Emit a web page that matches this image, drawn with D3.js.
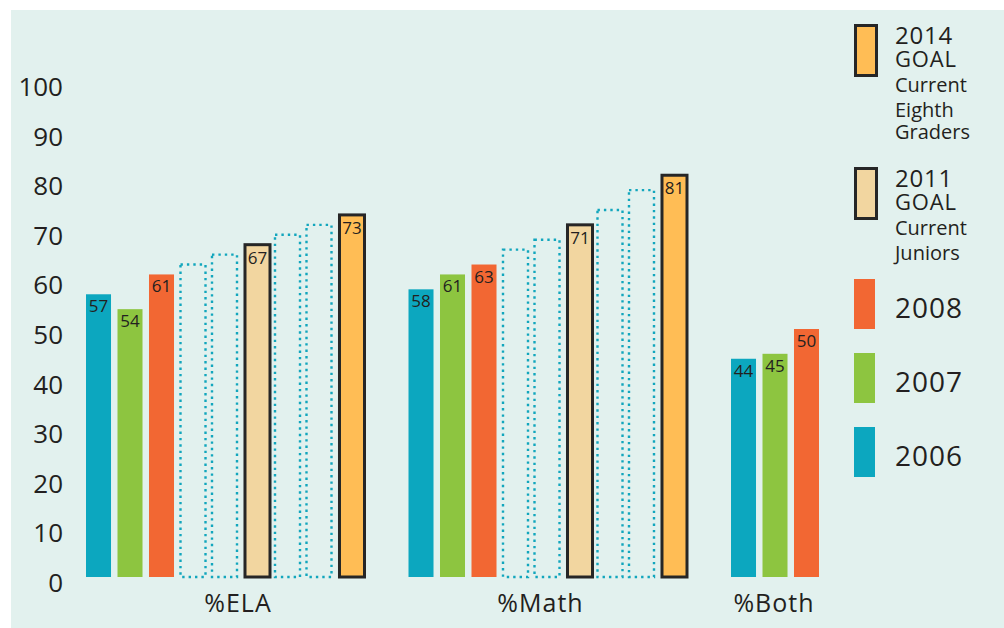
<!DOCTYPE html>
<html>
<head>
<meta charset="utf-8">
<script src="https://cdn.jsdelivr.net/npm/d3@7"></script>
<style>
  body { margin: 0; background: #fff; }
  text { font-family: "Open Sans", sans-serif; fill: #231f20; }
</style>
</head>
<body>
<script>
// categories and slots
var categories = ["%ELA", "%Math", "%Both"];
var slots = ["2006", "2007", "2008", "p1", "p2", "2011", "p3", "p4", "2014"];

// values per year (null = no bar)
var y2006 = [57, 58, 44];
var y2007 = [54, 61, 45];
var y2008 = [61, 63, 50];
var goal2011 = [67, 71, null];
var goal2014 = [73, 81, null];
// dotted "steps" toward the goals
var step1 = [63, 66, null];
var step2 = [65, 68, null];
var step3 = [69, 74, null];
var step4 = [71, 78, null];

var yTicks = [0, 10, 20, 30, 40, 50, 60, 70, 80, 90, 100];

var legendItems = [
  { key: "2014", lines: ["2014", "GOAL", "Current", "Eighth", "Graders"] },
  { key: "2011", lines: ["2011", "GOAL", "Current", "Juniors"] },
  { key: "2008", lines: ["2008"] },
  { key: "2007", lines: ["2007"] },
  { key: "2006", lines: ["2006"] }
];

var width = 1004,
    height = 628;

var color = {
  "2006": "#0ca7bf",
  "2007": "#8dc540",
  "2008": "#f26733",
  "2011": "#f2d6a0",
  "2014": "#ffbd55"
};

var svg = d3.select("body").append("svg")
    .attr("width", width)
    .attr("height", height);

svg.append("rect")
    .attr("x", 11).attr("y", 10)
    .attr("width", width - 11).attr("height", height - 10)
    .attr("fill", "#e2f1ee");

var y = d3.scaleLinear().domain([0, 100]).range([577, 81]);

var x0 = d3.scaleBand().domain(categories).range([86, 86 + 3 * 322.5]);
var x1 = d3.scaleBand().domain(slots).range([0, 277]).paddingInner(0.206);

// build bar list
var series = {
  "2006": y2006, "2007": y2007, "2008": y2008,
  "p1": step1, "p2": step2, "2011": goal2011, "p3": step3, "p4": step4, "2014": goal2014
};
var bars = [];
categories.forEach(function(c, i) {
  slots.forEach(function(s) {
    var v = series[s][i];
    if (v != null) bars.push({ cat: c, slot: s, value: v });
  });
});

var bw = x1.bandwidth();
function isGoal(d) { return d.slot == "2011" || d.slot == "2014"; }
function isStep(d) { return d.slot.charAt(0) == "p"; }
function barX(d) {
  var bx = x0(d.cat) + x1(d.slot);
  return isGoal(d) ? bx + 1.5 : bx;
}

svg.selectAll(".bar")
    .data(bars)
  .enter().append("rect")
    .attr("class", "bar")
    .attr("x", barX)
    .attr("y", function(d) { return y(d.value); })
    .attr("width", bw)
    .attr("height", function(d) { return y(0) - y(d.value); })
    .attr("fill", function(d) { return color[d.slot] || "none"; })
    .attr("stroke", function(d) {
      if (isGoal(d)) return "#262626";
      if (isStep(d)) return "#12a6bd";
      return "none";
    })
    .attr("stroke-width", function(d) { return isStep(d) ? 2.4 : 3; })
    .attr("stroke-dasharray", function(d) { return isStep(d) ? "2.4,4" : null; });

// value labels
svg.selectAll(".val")
    .data(bars.filter(function(d) { return !isStep(d); }))
  .enter().append("text")
    .attr("class", "val")
    .attr("x", function(d) { return barX(d) + bw / 2; })
    .attr("y", function(d) { return y(d.value) + (isGoal(d) ? 19 : 18); })
    .attr("text-anchor", "middle")
    .style("font-size", "17px")
    .text(function(d) { return d.value; });

// y axis labels
var yAxis = d3.axisLeft(y).tickValues(yTicks).tickSize(0).tickPadding(0);
var gy = svg.append("g")
    .attr("transform", "translate(63,0)")
    .call(yAxis);
gy.select(".domain").remove();
gy.selectAll("text")
    .attr("dy", "14.5")
    .attr("fill", "#231f20")
    .style("font-family", "Open Sans")
    .style("font-size", "26px");

// category labels
var labelShift = [12, -8, 0];
var groupWidth = function(i) { return i < 2 ? 280 : 86; };
svg.selectAll(".cat")
    .data(categories)
  .enter().append("text")
    .attr("class", "cat")
    .attr("x", function(d, i) { return x0(d) + groupWidth(i) / 2 + labelShift[i]; })
    .attr("y", 612)
    .attr("text-anchor", "middle")
    .style("font-size", "25px")
    .style("letter-spacing", "1px")
    .text(function(d) { return d; });

// legend
var legendY = [24, 167, 279, 353, 427];
var legend = svg.selectAll(".legend")
    .data(legendItems)
  .enter().append("g")
    .attr("class", "legend")
    .attr("transform", function(d, i) { return "translate(854," + legendY[i] + ")"; });

legend.append("rect")
    .attr("x", function(d) { return d.lines.length > 1 ? 1.5 : 0; })
    .attr("y", function(d) { return d.lines.length > 1 ? 1.5 : 0; })
    .attr("width", 21)
    .attr("height", 50)
    .attr("fill", function(d) { return color[d.key]; })
    .attr("stroke", function(d) { return d.lines.length > 1 ? "#262626" : "none"; })
    .attr("stroke-width", 3);

var lineSize = [24, 22, 20, 20, 20];
var lineBase = [19.5, 43, 67.5, 92.5, 115];
legend.each(function(d) {
  var g = d3.select(this);
  if (d.lines.length == 1) {
    g.append("text")
      .attr("x", 41).attr("y", 39)
      .style("font-size", "28px")
      .style("letter-spacing", "1px")
      .text(d.lines[0]);
  } else {
    d.lines.forEach(function(l, j) {
      g.append("text")
        .attr("x", 41).attr("y", lineBase[j])
        .style("font-size", lineSize[j] + "px")
        .style("letter-spacing", j < 2 ? "0.8px" : "0px")
        .text(l);
    });
  }
});
</script>
</body>
</html>
